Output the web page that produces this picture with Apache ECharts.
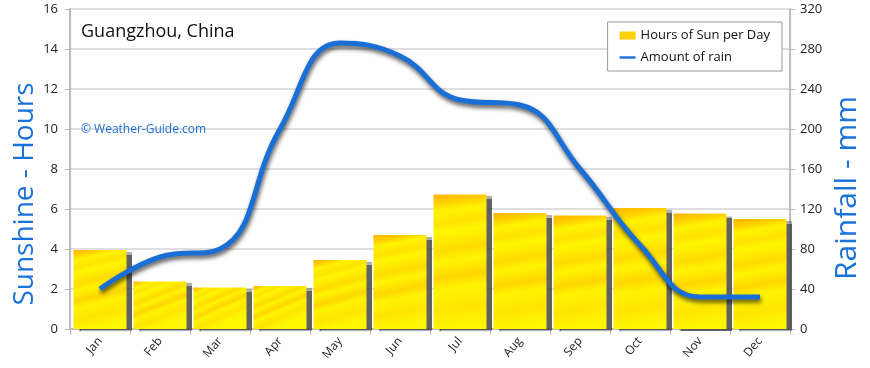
<!DOCTYPE html>
<html>
<head>
<meta charset="utf-8">
<script src="https://cdn.jsdelivr.net/npm/echarts@6/dist/echarts.min.js"></script>
<style>html,body{margin:0;padding:0;background:#fff}#c{width:870px;height:368px}</style>
</head>
<body>
<div id="c"></div>
<script>
var months = ['Jan','Feb','Mar','Apr','May','Jun','Jul','Aug','Sep','Oct','Nov','Dec'];
var sunHours = [3.95, 2.38, 2.08, 2.15, 3.45, 4.7, 6.73, 5.8, 5.68, 6.05, 5.77, 5.5];
var rainMm = [40, 72, 80, 200, 286, 273, 229, 224, 160, 84, 32, 32];
var sunTicks = {min: 0, max: 16, interval: 2};
var rainTicks = {min: 0, max: 320, interval: 40};

var FONT = 'Open Sans';
var chart = echarts.init(document.getElementById('c'), null, {renderer: 'canvas'});
var barFill = new echarts.graphic.LinearGradient(0, 0, 0.35, 1, [
  {offset: 0, color: '#ffb400'},
  {offset: 0.07, color: '#ffcf00'},
  {offset: 0.13, color: '#fff300'},
  {offset: 0.22, color: '#ffe300'},
  {offset: 0.28, color: '#fff600'},
  {offset: 0.42, color: '#ffdc00'},
  {offset: 0.5, color: '#fff400'},
  {offset: 0.62, color: '#ffd600'},
  {offset: 0.7, color: '#fff300'},
  {offset: 0.85, color: '#ffe600'},
  {offset: 1, color: '#fff700'}
]);
chart.setOption({
  animation: false,
  backgroundColor: '#fff',
  textStyle: {fontFamily: FONT},
  grid: {left: 70, right: 80, top: 9, bottom: 39},
  title: [
    {text: 'Guangzhou, China', left: 76, top: 18, textStyle: {fontFamily: FONT, fontSize: 18, fontWeight: 'normal', color: '#111'}},
    {text: '© Weather-Guide.com', left: 76, top: 119, textStyle: {fontFamily: FONT, fontSize: 12, fontWeight: 'normal', color: '#1a6fd6'}}
  ],
  graphic: [
    {type: 'text', x: 25, y: 194, rotation: Math.PI / 2,
     style: {text: 'Sunshine - Hours', font: '28px "Open Sans"', fill: '#1a73d9', textAlign: 'center', textVerticalAlign: 'middle'}},
    {type: 'text', x: 847, y: 188, rotation: Math.PI / 2,
     style: {text: 'Rainfall - mm', font: '30px "Open Sans"', fill: '#1a73d9', textAlign: 'center', textVerticalAlign: 'middle'}}
  ],
  legend: {
    orient: 'vertical', right: 88, top: 22,
    backgroundColor: '#fff', borderColor: '#999', borderWidth: 1,
    padding: [7, 12, 7, 12], itemGap: 9, itemWidth: 16, itemHeight: 8,
    textStyle: {fontFamily: FONT, fontSize: 13, color: '#111'},
    data: [
      {name: 'Hours of Sun per Day', icon: 'rect', itemStyle: {color: '#ffd000', shadowBlur: 0, shadowOffsetX: 0, shadowOffsetY: 0}},
      {name: 'Amount of rain', icon: 'path://M0,4 L20,4 L20,7 L0,7 Z', itemStyle: {color: '#1a6fd6'}}
    ]
  },
  xAxis: {
    type: 'category', data: months,
    axisLine: {lineStyle: {color: '#bbb', width: 2}},
    axisTick: {show: true, alignWithLabel: false, length: 6, lineStyle: {color: '#bbb'}},
    axisLabel: {rotate: 50, fontSize: 12, color: '#222', fontFamily: FONT, margin: 10},
    splitLine: {show: false}
  },
  yAxis: [
    {
      type: 'value', min: sunTicks.min, max: sunTicks.max, interval: sunTicks.interval,
      axisLine: {show: true, lineStyle: {color: '#bbb', width: 2}},
      axisTick: {show: true, length: 5, lineStyle: {color: '#bbb'}},
      axisLabel: {fontSize: 13, color: '#222', fontFamily: FONT, margin: 12},
      splitLine: {show: true, lineStyle: {color: '#d4d4d4', width: 1.5}}
    },
    {
      type: 'value', min: rainTicks.min, max: rainTicks.max, interval: rainTicks.interval,
      axisLine: {show: true, lineStyle: {color: '#bbb', width: 2}},
      axisTick: {show: true, length: 5, lineStyle: {color: '#bbb'}},
      axisLabel: {fontSize: 13, color: '#222', fontFamily: FONT, margin: 10},
      splitLine: {show: false}
    }
  ],
  series: [
    {
      name: 'Hours of Sun per Day', type: 'bar', yAxisIndex: 0, data: sunHours,
      barWidth: 53,
      itemStyle: {color: barFill, shadowColor: 'rgba(70,70,70,0.85)', shadowOffsetX: 5, shadowOffsetY: 2, shadowBlur: 1}
    },
    {
      name: 'Amount of rain', type: 'line', yAxisIndex: 1, data: rainMm,
      smooth: 0.45, symbol: 'none', z: 5,
      lineStyle: {color: '#1a6fd6', width: 5, shadowColor: 'rgba(0,0,0,0.65)', shadowBlur: 4, shadowOffsetX: 1, shadowOffsetY: 3},
      itemStyle: {color: '#1a6fd6'}
    }
  ]
});
</script>
</body>
</html>
